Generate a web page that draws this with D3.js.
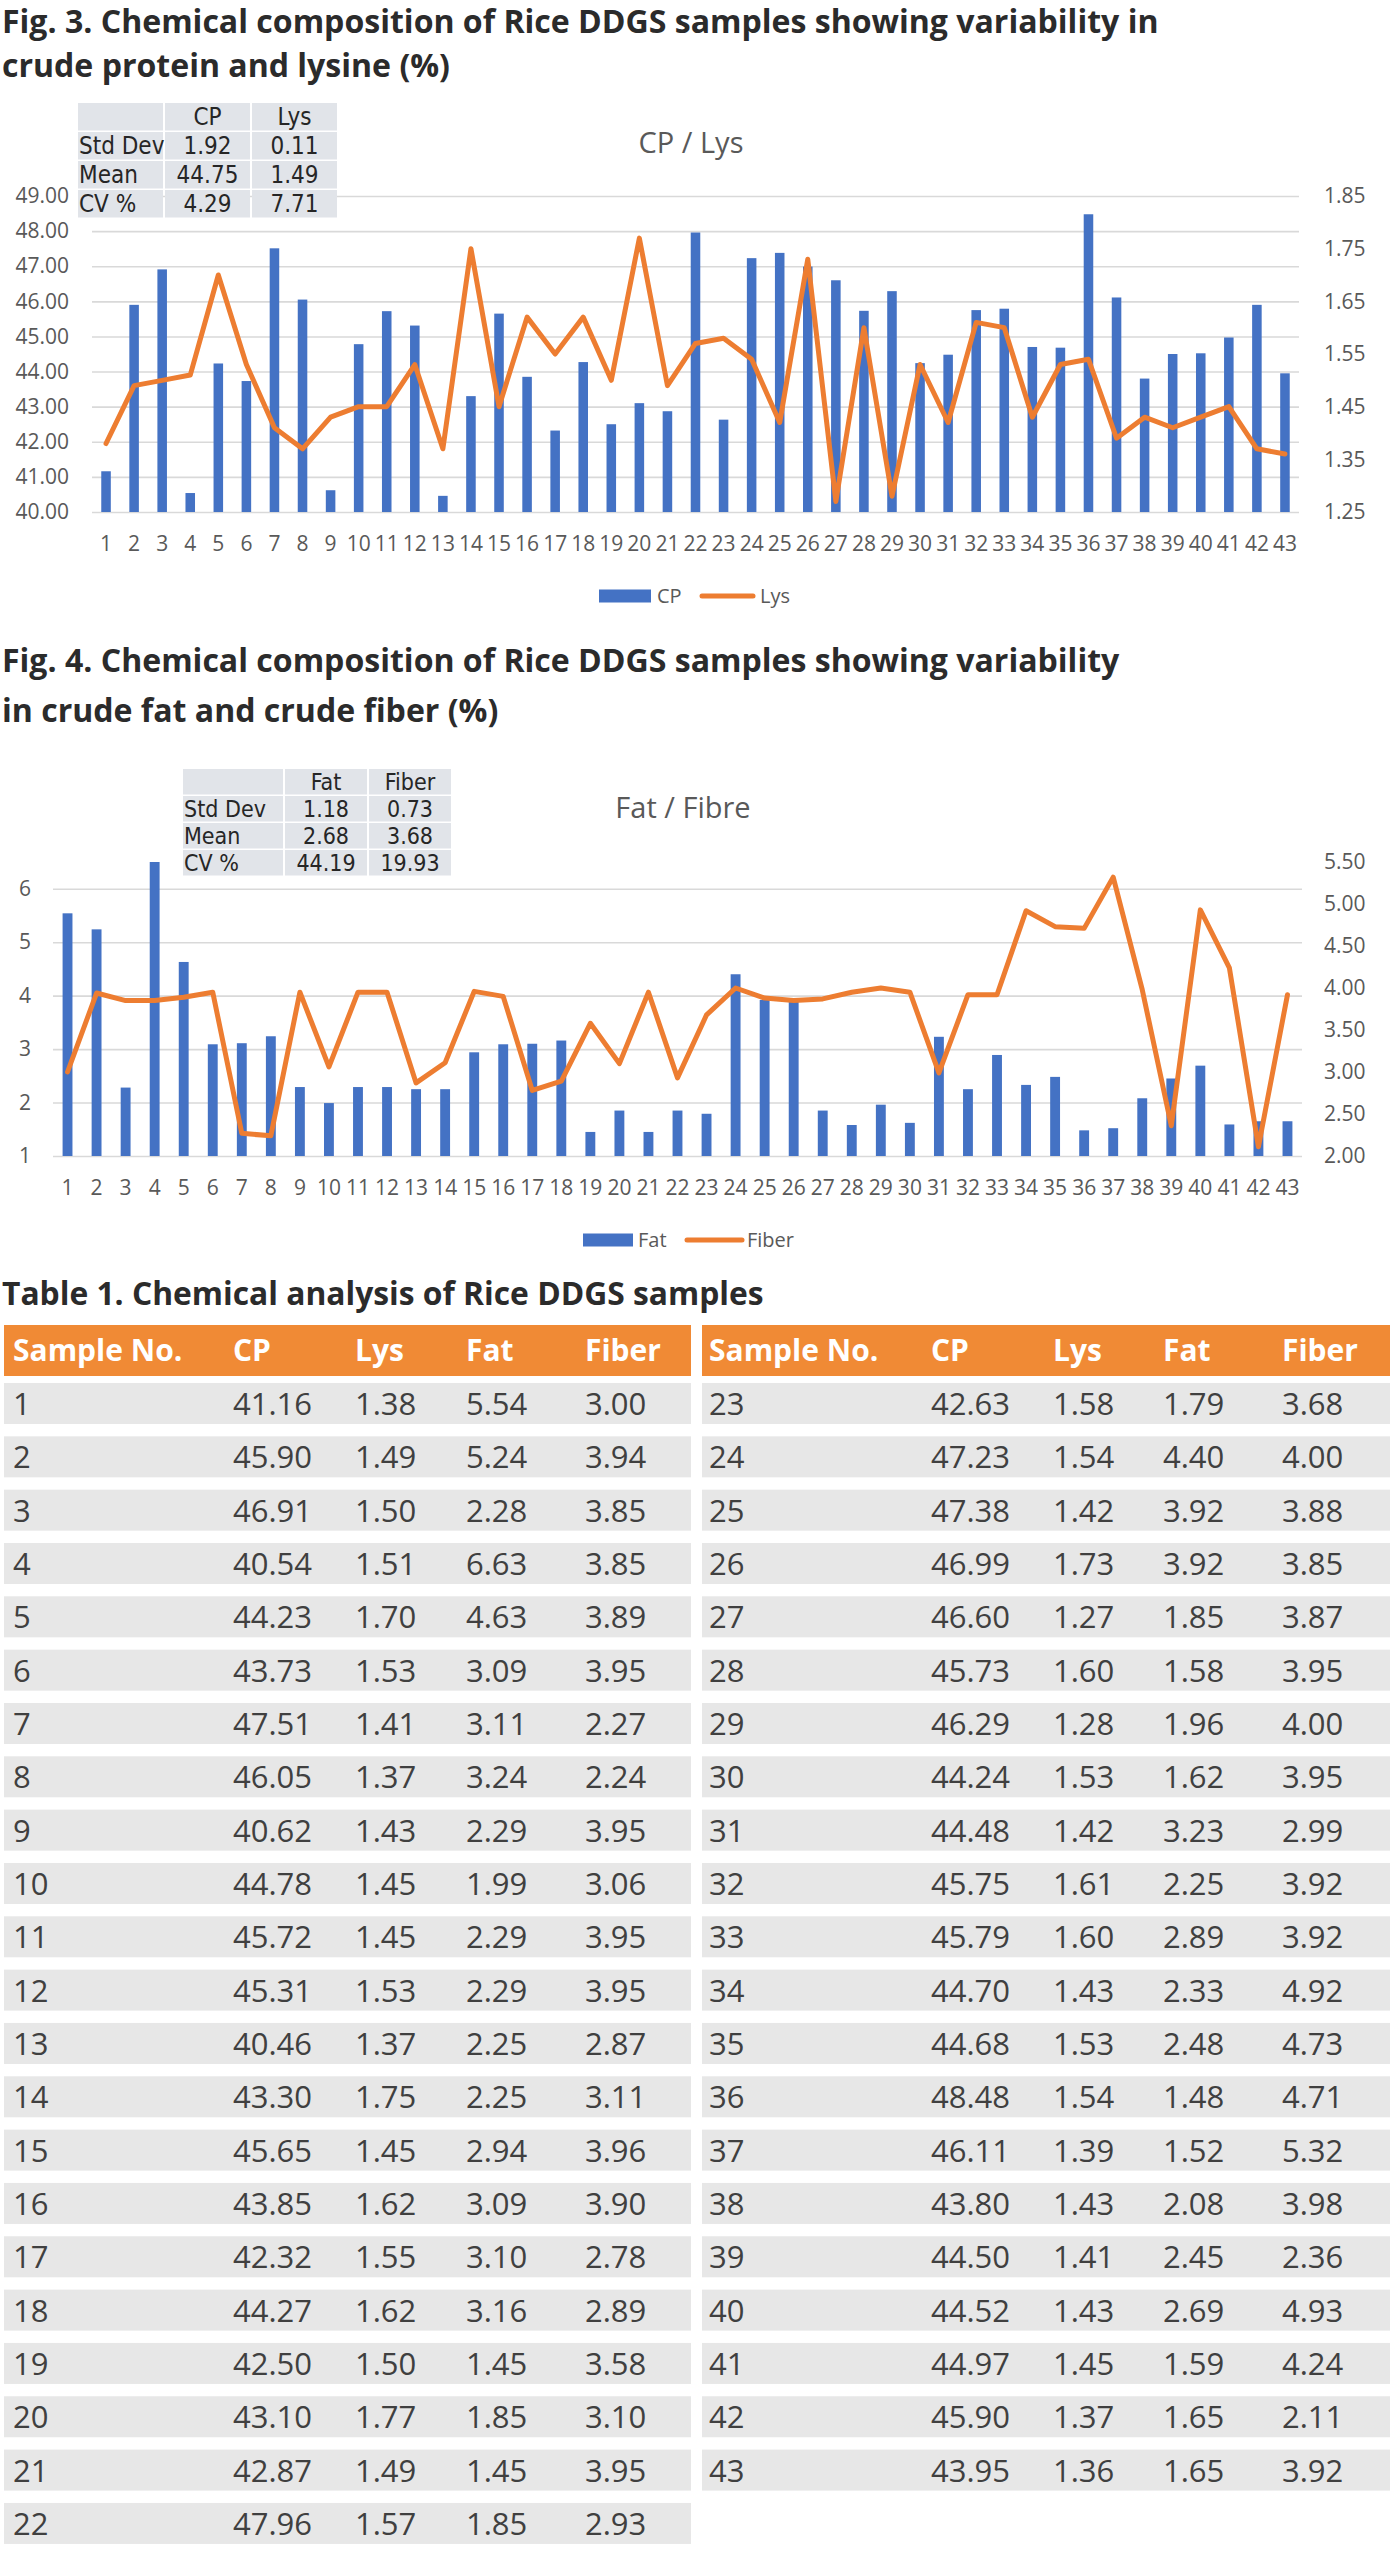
<!DOCTYPE html>
<html><head><meta charset="utf-8">
<script src="https://cdn.jsdelivr.net/npm/d3@7"></script>
<style>
body{margin:0;background:#fff;}
svg{display:block;}
</style></head>
<body>
<svg id="c" width="1390" height="2560"></svg>
<script>
// ---------------- DATA ----------------
const samples = [1,2,3,4,5,6,7,8,9,10,11,12,13,14,15,16,17,18,19,20,21,22,23,24,25,26,27,28,29,30,31,32,33,34,35,36,37,38,39,40,41,42,43];
const cp = [41.16,45.90,46.91,40.54,44.23,43.73,47.51,46.05,40.62,44.78,45.72,45.31,40.46,43.30,45.65,43.85,42.32,44.27,42.50,43.10,42.87,47.96,42.63,47.23,47.38,46.99,46.60,45.73,46.29,44.24,44.48,45.75,45.79,44.70,44.68,48.48,46.11,43.80,44.50,44.52,44.97,45.90,43.95];
const lys = [1.38,1.49,1.50,1.51,1.70,1.53,1.41,1.37,1.43,1.45,1.45,1.53,1.37,1.75,1.45,1.62,1.55,1.62,1.50,1.77,1.49,1.57,1.58,1.54,1.42,1.73,1.27,1.60,1.28,1.53,1.42,1.61,1.60,1.43,1.53,1.54,1.39,1.43,1.41,1.43,1.45,1.37,1.36];
const fat = [5.54,5.24,2.28,6.63,4.63,3.09,3.11,3.24,2.29,1.99,2.29,2.29,2.25,2.25,2.94,3.09,3.10,3.16,1.45,1.85,1.45,1.85,1.79,4.40,3.92,3.92,1.85,1.58,1.96,1.62,3.23,2.25,2.89,2.33,2.48,1.48,1.52,2.08,2.45,2.69,1.59,1.65,1.65];
const fiber = [3.00,3.94,3.85,3.85,3.89,3.95,2.27,2.24,3.95,3.06,3.95,3.95,2.87,3.11,3.96,3.90,2.78,2.89,3.58,3.10,3.95,2.93,3.68,4.00,3.88,3.85,3.87,3.95,4.00,3.95,2.99,3.92,3.92,4.92,4.73,4.71,5.32,3.98,2.36,4.93,4.24,2.11,3.92];

const cpTicks = [40,41,42,43,44,45,46,47,48,49];
const lysTicks = [1.25,1.35,1.45,1.55,1.65,1.75,1.85];
const fatTicks = [1,2,3,4,5,6];
const fiberTicks = [2.0,2.5,3.0,3.5,4.0,4.5,5.0,5.5];

const statRows = ["Std Dev","Mean","CV %"];
const statCP = ["1.92","44.75","4.29"];
const statLys = ["0.11","1.49","7.71"];
const statFat = ["1.18","2.68","44.19"];
const statFiber = ["0.73","3.68","19.93"];

const tableHeaders = ["Sample No.","CP","Lys","Fat","Fiber"];

const fig3Title = ["Fig. 3. Chemical composition of Rice DDGS samples showing variability in","crude protein and lysine (%)"];
const fig4Title = ["Fig. 4. Chemical composition of Rice DDGS samples showing variability","in crude fat and crude fiber (%)"];
const tableTitle = "Table 1. Chemical analysis of Rice DDGS samples";

// ---------------- STYLE ----------------
const TXT = "#595959", GRID = "#D9D9D9", BLUE = "#4472C4", ORANGE = "#ED7D31";
const FONT = "'Open Sans','Segoe UI',sans-serif";
const NARROW = "'Liberation Sans Narrow','Arial Narrow','DejaVu Sans Condensed',sans-serif";
const svg = d3.select("#c");

// ---------------- TITLES ----------------
function fitFont(str, target, weight){
  const t = svg.append("text").style("font-family",FONT).style("font-weight",weight).style("font-size","28px").text(str);
  const w = t.node().getComputedTextLength();
  t.remove();
  return 28 * target / w;
}
const figFs = fitFont(fig3Title[0], 1157, 700);
function drawLines(lines, baselines, fs){
  lines.forEach((s,i)=>{
    svg.append("text").attr("x",2).attr("y",baselines[i])
      .style("font-family",FONT).style("font-weight",700).style("font-size",fs+"px")
      .attr("fill","#2b2b2b").text(s);
  });
}
drawLines(fig3Title,[33,77],figFs);
drawLines(fig4Title,[672,722],figFs);
const tabFs = fitFont(tableTitle, 762, 700);
drawLines([tableTitle],[1305],tabFs);

// ---------------- COMBO CHART ----------------
function comboChart(cfg){
  const g = svg.append("g");
  const x = d3.scaleBand().domain(samples).range([cfg.x0,cfg.x1]).paddingInner(0.66).paddingOuter(0.33);
  const yL = d3.scaleLinear().domain(cfg.leftDomain).range([cfg.yBottom,cfg.yTop]).clamp(true);
  const yR = d3.scaleLinear().domain(cfg.rightDomain).range([cfg.yBottom,cfg.yTop]);

  const axL = g.append("g").attr("transform",`translate(${cfg.x0},0)`)
    .call(d3.axisLeft(yL).tickValues(cfg.leftTicks).tickFormat(cfg.leftFmt)
      .tickSize(-(cfg.x1-cfg.x0)).tickPadding(cfg.leftPad));
  axL.select(".domain").remove();
  axL.selectAll(".tick line").attr("stroke",GRID).attr("stroke-width",1.6);
  axL.selectAll(".tick text").attr("fill",TXT).style("font-family",FONT).style("font-size","21px");

  const axR = g.append("g").attr("transform",`translate(${cfg.x1},0)`)
    .call(d3.axisRight(yR).tickValues(cfg.rightTicks).tickFormat(d3.format(".2f"))
      .tickSize(0).tickPadding(cfg.rightPad));
  axR.select(".domain").remove();
  axR.selectAll(".tick text").attr("fill",TXT).style("font-family",FONT).style("font-size","21px");

  const axB = g.append("g").attr("transform",`translate(0,${cfg.yBottom})`)
    .call(d3.axisBottom(x).tickSize(0).tickPadding(24));
  axB.select(".domain").remove();
  axB.selectAll(".tick text").attr("fill",TXT).style("font-family",FONT).style("font-size","21px");

  g.append("g").selectAll("rect").data(cfg.bars).join("rect")
    .attr("x",(d,i)=>x(samples[i])).attr("width",x.bandwidth())
    .attr("y",d=>yL(d)).attr("height",d=>yL(cfg.leftDomain[0])-yL(d))
    .attr("fill",BLUE);

  const line = d3.line().x((d,i)=>x(samples[i])+x.bandwidth()/2).y(d=>yR(d));
  g.append("path").datum(cfg.line).attr("d",line).attr("fill","none")
    .attr("stroke",ORANGE).attr("stroke-width",5).attr("stroke-linejoin","round").attr("stroke-linecap","round");

  // chart title
  g.append("text").attr("x",cfg.titleX).attr("y",cfg.titleY).attr("text-anchor","middle")
    .attr("fill",TXT).style("font-family",FONT).style("font-size","29px").text(cfg.title);

  // legend
  const L = cfg.legend;
  g.append("rect").attr("x",L.sx).attr("y",L.y-6.5).attr("width",L.sw).attr("height",13).attr("fill",BLUE);
  g.append("text").attr("x",L.t1).attr("y",L.y).attr("dy","0.35em").attr("fill",TXT)
    .style("font-family",FONT).style("font-size","20px").text(cfg.names[0]);
  g.append("line").attr("x1",L.lx1).attr("x2",L.lx2).attr("y1",L.y).attr("y2",L.y)
    .attr("stroke",ORANGE).attr("stroke-width",5).attr("stroke-linecap","round");
  g.append("text").attr("x",L.t2).attr("y",L.y).attr("dy","0.35em").attr("fill",TXT)
    .style("font-family",FONT).style("font-size","20px").text(cfg.names[1]);

  // stats table
  const S = cfg.stats;
  const cols = [["",...statRows], [cfg.names[0],...S.a], [cfg.names[1],...S.b]];
  let cx = S.x0;
  cols.forEach((col,ci)=>{
    col.forEach((val,ri)=>{
      const cy = S.y0 + ri*(S.rh+S.gap);
      g.append("rect").attr("x",cx).attr("y",cy).attr("width",S.cw[ci]).attr("height",S.rh).attr("fill","#E1E4E9");
      if(val!==""){
        g.append("text").attr("x", ci===0 ? cx+1 : cx+S.cw[ci]/2).attr("y",cy+S.rh/2).attr("dy","0.36em")
          .attr("text-anchor", ci===0 ? "start":"middle").attr("fill","#262626")
          .style("font-family",NARROW).style("font-size",S.fs+"px").text(val);
      }
    });
    cx += S.cw[ci] + 2;
  });
}

comboChart({
  x0:92, x1:1299, yTop:196, yBottom:512,
  leftDomain:[40,49], rightDomain:[1.25,1.85],
  leftTicks:cpTicks, rightTicks:lysTicks, leftFmt:d3.format(".2f"),
  leftPad:23, rightPad:25,
  bars:cp, line:lys, names:["CP","Lys"],
  title:"CP / Lys", titleX:691, titleY:153,
  legend:{sx:599, sw:52, t1:657, lx1:702, lx2:753, t2:760, y:596},
  stats:{x0:78, y0:103, cw:[85,85,85], rh:27.5, gap:1.5, fs:24, a:statCP, b:statLys}
});

comboChart({
  x0:53, x1:1302, yTop:862, yBottom:1156,
  leftDomain:[1,6.5], rightDomain:[2,5.5],
  leftTicks:fatTicks, rightTicks:fiberTicks, leftFmt:d3.format("d"),
  leftPad:22, rightPad:22,
  bars:fat, line:fiber, names:["Fat","Fiber"],
  title:"Fat / Fibre", titleX:683, titleY:818,
  legend:{sx:583, sw:50, t1:638, lx1:687, lx2:742, t2:747, y:1240},
  stats:{x0:183, y0:769, cw:[100,82,82], rh:25.5, gap:1.5, fs:23, a:statFat, b:statFiber}
});

// ---------------- DATA TABLE ----------------
const tables = [
  {x0:4, x1:691, cols:[13,233,355,466,585], from:0, to:22},
  {x0:702, x1:1390, cols:[709,931,1053,1163,1282], from:22, to:43}
];
const rowTop = 1383, rowPitch = 53.33, rowH = 41;
tables.forEach(T=>{
  const tg = svg.append("g");
  tg.append("rect").attr("x",T.x0).attr("y",1325).attr("width",T.x1-T.x0).attr("height",51).attr("fill","#F08A35");
  tableHeaders.forEach((h,i)=>{
    tg.append("text").attr("x",T.cols[i]).attr("y",1361).attr("fill","#fff")
      .style("font-family",FONT).style("font-weight",700).style("font-size","30px").text(h);
  });
  const idx = samples.slice(T.from,T.to).map((s,k)=>T.from+k);
  const rows = tg.selectAll("g.row").data(idx).join("g").attr("class","row")
    .attr("transform",(d,k)=>`translate(0,${rowTop + k*rowPitch})`);
  rows.append("rect").attr("x",T.x0).attr("y",0).attr("width",T.x1-T.x0).attr("height",rowH).attr("fill","#E7E7E7");
  const vals = d=>[String(samples[d]), cp[d].toFixed(2), lys[d].toFixed(2), fat[d].toFixed(2), fiber[d].toFixed(2)];
  [0,1,2,3,4].forEach(c=>{
    rows.append("text").attr("x",T.cols[c]).attr("y",rowH/2).attr("dy","0.37em")
      .attr("fill","#404040").style("font-family",FONT).style("font-size","31px")
      .text(d=>vals(d)[c]);
  });
});
</script>
</body></html>
